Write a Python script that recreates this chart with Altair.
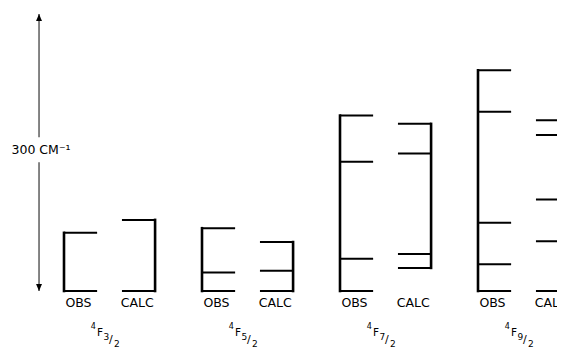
import altair as alt
import pandas as pd

# ---- data (cm^-1 above the lowest OBS level of each multiplet) ----
terms = ["3/2", "5/2", "7/2", "9/2"]
obs_levels = [
    [0, 63],
    [0, 20, 68],
    [0, 35, 140, 190],
    [0, 29, 74, 194, 239],
]
calc_levels = [
    [0, 77],
    [0, 22, 53],
    [25, 40, 149, 181],
    [0, 54, 99, 169, 185],
]
column_labels = ["OBS", "CALC"]
scale_bar = 300          # length of the scale arrow, cm^-1
scale_label = "300 CM\u207b\u00b9"

# ---- layout (in group units) ----
OBS_X0, OBS_X1 = 0.0, 0.24
CALC_X0, CALC_X1 = 0.42, 0.66
W, H = 549, 343
xscale = alt.Scale(domain=[-0.4058, -0.4058 + W / 138.0], nice=False, zero=False)
yscale = alt.Scale(domain=[306.5 - H / 0.9233, 306.5], nice=False, zero=False)

h_rows, v_rows, lab_rows, term_rows = [], [], [], []
for g, (ob, ca) in enumerate(zip(obs_levels, calc_levels)):
    for e in ob:
        h_rows.append({"x": g + OBS_X0, "x2": g + OBS_X1, "y": e})
    for e in ca:
        h_rows.append({"x": g + CALC_X0, "x2": g + CALC_X1, "y": e})
    v_rows.append({"x": g + OBS_X0, "y": min(ob), "y2": max(ob)})
    v_rows.append({"x": g + CALC_X1, "y": min(ca), "y2": max(ca)})
    lab_rows.append({"x": g + 0.105, "y": -12.5, "t": column_labels[0]})
    lab_rows.append({"x": g + 0.53, "y": -12.5, "t": column_labels[1]})
    num, den = terms[g].split("/")
    term_rows.append({"x": g + 0.30, "y": -45.5, "sup": "4", "F": "F", "num": num, "sl": "/", "den": den})

h_df = pd.DataFrame(h_rows)
v_df = pd.DataFrame(v_rows)
lab_df = pd.DataFrame(lab_rows)
term_df = pd.DataFrame(term_rows)

X = lambda f="x": alt.X(f"{f}:Q", scale=xscale, axis=None)
Y = lambda f="y": alt.Y(f"{f}:Q", scale=yscale, axis=None)

horiz = alt.Chart(h_df).mark_rule(color="black", strokeWidth=2, clip=True).encode(
    x=X(), x2="x2:Q", y=Y())
vert = alt.Chart(v_df).mark_rule(color="black", strokeWidth=2.6, strokeCap="square", clip=True).encode(
    x=X(), y=Y(), y2="y2:Q")

font = "DejaVu Sans"
labels = alt.Chart(lab_df).mark_text(font=font, fontSize=12.5, color="black", align="center", baseline="middle").encode(
    x=X(), y=Y(), text="t:N")

def term_part(field, dx, dy, size):
    return alt.Chart(term_df).mark_text(font=font, fontSize=size, color="black", align="center",
                                        baseline="middle", dx=dx, dy=dy).encode(x=X(), y=Y(), text=f"{field}:N")

terms_layer = alt.layer(
    term_part("sup", -12, -6, 8),
    term_part("F", -5.5, 0, 10.5),
    term_part("num", 1, 4, 9),
    term_part("sl", 5.5, 6.5, 11),
    term_part("den", 11.5, 10.5, 9),
)

# scale arrow
arrow_x = -0.181
gap_lo, gap_hi = 139.5, 166.5
shaft_df = pd.DataFrame([
    {"x": arrow_x, "y": 0, "y2": gap_lo},
    {"x": arrow_x, "y": gap_hi, "y2": scale_bar},
])
shaft = alt.Chart(shaft_df).mark_rule(color="#333", strokeWidth=1.2).encode(x=X(), y=Y(), y2="y2:Q")
head_up = alt.Chart(pd.DataFrame([{"x": arrow_x, "y": scale_bar - 3.8}])).mark_point(
    shape="M0,-1L0.85,1L-0.85,1Z", filled=True, color="black", opacity=1, size=49).encode(x=X(), y=Y())
head_dn = alt.Chart(pd.DataFrame([{"x": arrow_x, "y": 3.8}])).mark_point(
    shape="M0,1L0.85,-1L-0.85,-1Z", filled=True, color="black", opacity=1, size=49).encode(x=X(), y=Y())
bar_text = alt.Chart(pd.DataFrame([{"x": arrow_x, "y": 152.5, "t": scale_label}])).mark_text(
    font=font, fontSize=12.5, color="black", align="center", baseline="middle", dx=2).encode(
    x=X(), y=Y(), text="t:N")

chart = alt.layer(shaft, head_up, head_dn, bar_text, horiz, vert, labels, terms_layer).properties(
    width=W, height=H, autosize=alt.AutoSizeParams(type="none"), padding=0,
    background="white",
).configure_view(stroke=None)

chart.save("out.html", embed_options={"renderer": "svg", "actions": False})
